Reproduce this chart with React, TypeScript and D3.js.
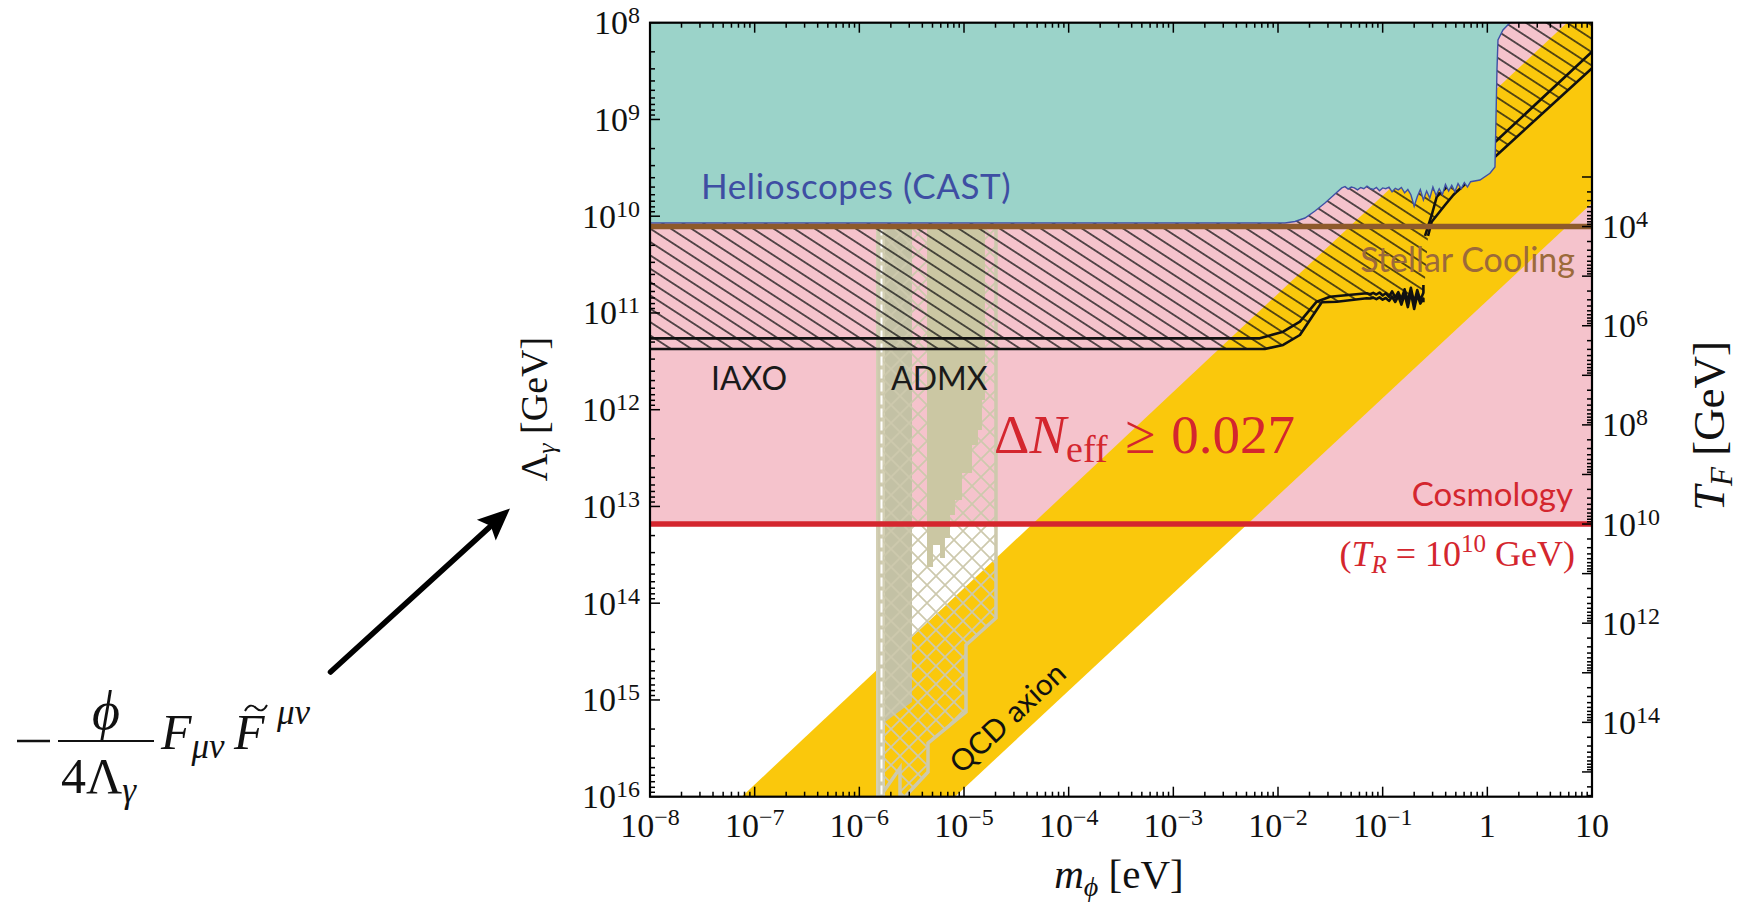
import React from 'react';
import * as d3 from 'd3';

type Pt = [number, number]; // [mass in eV, Lambda in GeV]

const W = 1745;
const H = 905;
const PLOT = { left: 650, right: 1592, top: 22.7, bottom: 796.7 };

const MASS_DOMAIN: [number, number] = [1e-8, 10];
const LAMBDA_DOMAIN: [number, number] = [1e8, 1e16];

// bottom axis labels: [mantissa, exponent]
const MASS_TICKS = [1e-8, 1e-7, 1e-6, 1e-5, 1e-4, 1e-3, 1e-2, 1e-1, 1, 10];
const MASS_TICK_LABELS: [string, string][] = [
  ['10', '−8'], ['10', '−7'], ['10', '−6'], ['10', '−5'], ['10', '−4'],
  ['10', '−3'], ['10', '−2'], ['10', '−1'], ['1', ''], ['10', ''],
];
const LAMBDA_TICKS = [1e8, 1e9, 1e10, 1e11, 1e12, 1e13, 1e14, 1e15, 1e16];
const LAMBDA_TICK_EXP = ['8', '9', '10', '11', '12', '13', '14', '15', '16'];
const TF_TICKS = [1e4, 1e6, 1e8, 1e10, 1e12, 1e14];
const TF_TICK_EXP = ['4', '6', '8', '10', '12', '14'];

// horizontal bounds
const LAMBDA_STELLAR = 1.28e10; // stellar cooling, T_F = 1e4 GeV
const LAMBDA_COSMO = 1.52e13; // Delta N_eff >= 0.027 for T_R = 1e10 GeV
const TF_AT_STELLAR = 1e4;
const TF_AT_COSMO = 1e10;

// QCD axion band
const QCD_BAND: Pt[] = [
  [7.52e-8, 1e16], [5.77, 1e8], [10, 1e8], [10, 7.31e9], [8.2e-6, 1e16],
];

// CAST helioscope limit
const CAST_LIMIT: Pt[] = [
  [1e-8, 1.176e10], [0.01166, 1.176e10], [0.01453, 1.134e10], [0.0181, 1.044e10],
  [0.02256, 8.84e9], [0.02811, 7.31e9], [0.03503, 5.9e9], [0.0407, 5.1e9],
  [0.0437, 4.95e9], [0.0468, 5.25e9], [0.0501, 5.0e9], [0.0537, 5.1e9],
  [0.0575, 5.35e9], [0.0617, 5.05e9], [0.0661, 5.2e9], [0.0708, 4.9e9],
  [0.0759, 5.15e9], [0.0813, 5.3e9], [0.0871, 5.05e9], [0.0933, 5.45e9],
  [0.1, 5.1e9], [0.107, 5.2e9], [0.115, 5.0e9], [0.123, 5.6e9],
  [0.132, 5.15e9], [0.141, 5.35e9], [0.151, 5.05e9], [0.162, 5.75e9],
  [0.174, 5.3e9], [0.186, 6.0e9], [0.2, 7.9e9], [0.214, 6.3e9],
  [0.229, 5.3e9], [0.245, 6.8e9], [0.263, 5.5e9], [0.282, 6.5e9],
  [0.302, 5.0e9], [0.324, 6.1e9], [0.347, 5.2e9], [0.372, 6.0e9],
  [0.398, 4.7e9], [0.427, 5.5e9], [0.457, 4.8e9], [0.49, 5.6e9],
  [0.525, 4.6e9], [0.562, 5.2e9], [0.603, 4.5e9], [0.646, 5.0e9],
  [0.692, 4.4e9], [0.851, 4.23e9], [1.06, 3.6e9], [1.183, 3.1e9],
  [1.209, 1.01e9], [1.236, 3.08e8], [1.264, 1.51e8], [1.411, 1.19e8],
  [1.645, 1e8],
];

// IAXO projected sensitivity (two curves), low-mass branch
const IAXO_UPPER: Pt[] = [
  [1e-8, 1.83e11], [6.7e-3, 1.83e11], [1.12e-2, 1.56e11], [1.62e-2, 1.23e11],
  [2.34e-2, 7.65e10], [3.14e-2, 6.79e10], [7.04e-2, 6.26e10], [0.0759, 6.4e10],
  [0.0813, 6.2e10], [0.0871, 6.45e10], [0.0933, 6.15e10], [0.1, 6.6e10],
  [0.107, 6.25e10], [0.115, 6.8e10], [0.123, 6.0e10], [0.132, 6.9e10],
  [0.141, 6.1e10], [0.151, 7.2e10], [0.162, 5.7e10], [0.174, 7.6e10],
  [0.186, 5.5e10], [0.2, 7.9e10], [0.214, 5.8e10], [0.229, 7.4e10],
  [0.245, 6.2e10], [0.245, 5.14e10],
];
const IAXO_LOWER: Pt[] = [
  [1e-8, 2.36e11], [7.5e-3, 2.36e11], [1.12e-2, 2.14e11], [1.62e-2, 1.69e11],
  [2.17e-2, 1.05e11], [2.62e-2, 7.76e10], [3.64e-2, 7.65e10], [7.04e-2, 7.06e10],
  [0.0759, 7.1e10], [0.0813, 6.95e10], [0.0871, 7.2e10], [0.0933, 6.9e10],
  [0.1, 7.3e10], [0.107, 7.0e10], [0.115, 7.5e10], [0.123, 6.8e10],
  [0.132, 7.7e10], [0.141, 6.7e10], [0.151, 8.2e10], [0.162, 6.4e10],
  [0.174, 8.7e10], [0.186, 6.2e10], [0.2, 9.1e10], [0.214, 6.5e10],
  [0.229, 8.0e10], [0.245, 7.1e10], [0.245, 7.76e10],
];
// IAXO high-mass branch (two curves)
const IAXO_HIGH_A: Pt[] = [
  [0.254, 1.6e10], [0.2943, 9.72e9], [0.3286, 6.29e9], [0.3667, 5.58e9], [10, 2.0e8],
];
const IAXO_HIGH_B: Pt[] = [
  [0.2713, 1.6e10], [0.2943, 1.14e10], [0.3944, 7.66e9], [0.4734, 6.04e9],
  [0.5102, 5.58e9], [10, 2.95e8],
];

// ADMX haloscope
const ADMX_EDGE_BAND: [number, number] = [1.443e-6, 1.759e-6];
const ADMX_EDGE_DASH = 1.628e-6;
const ADMX_STRIP_1: Pt[] = [
  [1.759e-6, 1.28e10], [3.185e-6, 1.28e10], [3.185e-6, 1.05e15], [1.759e-6, 1.69e15],
];
const ADMX_STRIP_2: Pt[] = [
  [4.43e-6, 1.28e10], [1.586e-5, 1.28e10], [1.586e-5, 7.93e11], [1.485e-5, 7.93e11],
  [1.485e-5, 1.62e12], [1.36e-5, 1.62e12], [1.36e-5, 2.32e12], [1.193e-5, 2.32e12],
  [1.193e-5, 4.51e12], [9.57e-6, 4.51e12], [9.57e-6, 8.58e12], [8.2e-6, 8.58e12],
  [8.2e-6, 1.226e13], [7.35e-6, 1.226e13], [7.35e-6, 2.12e13], [6.58e-6, 2.12e13],
  [6.58e-6, 3.41e13], [5.9e-6, 3.41e13], [5.9e-6, 2.5e13], [5.06e-6, 2.5e13],
  [5.06e-6, 4.23e13], [4.43e-6, 4.23e13],
];
const ADMX_PROJECTED: Pt[] = [
  [1.541e-6, 1.28e10], [2.021e-5, 1.28e10], [2.021e-5, 1.42e14], [1.045e-5, 2.7e14],
  [1.045e-5, 1.332e15], [4.53e-6, 2.79e15], [4.53e-6, 5.55e15], [2.73e-6, 1e16],
  [2.446e-6, 1e16], [2.446e-6, 5.05e15], [1.576e-6, 1e16],
];

// label anchor for the QCD band text
const QCD_LABEL_AT: Pt = [2.63e-5, 1.54e15];

const SERIF = "'Liberation Serif', 'DejaVu Serif', serif";
const SANS = "Lato, 'Open Sans', 'DejaVu Sans', sans-serif";

const C = {
  pink: '#f5c3cc',
  yellow: '#fac80c',
  teal: '#9bd3c9',
  tealEdge: '#3f50a6',
  brown: '#8e5a2b',
  brownText: '#9c6a3a',
  red: '#d4262e',
  admx1: '#c3c1a5',
  admx2: '#cbc7a3',
  admxEdge: '#cdc9ad',
  admxBand: '#d3cfb3',
  blue: '#3e4ea3',
};

function minorTicks(lo: number, hi: number): number[] {
  const out: number[] = [];
  for (let e = lo; e < hi; e++) for (let k = 2; k < 10; k++) out.push(k * Math.pow(10, e));
  return out;
}

export default function App() {
  const x = d3.scaleLog().domain(MASS_DOMAIN).range([PLOT.left, PLOT.right]);
  const y = d3.scaleLog().domain(LAMBDA_DOMAIN).range([PLOT.top, PLOT.bottom]);
  const yT = d3
    .scaleLog()
    .domain([TF_AT_STELLAR, TF_AT_COSMO])
    .range([y(LAMBDA_STELLAR), y(LAMBDA_COSMO)]);

  const line = d3
    .line<Pt>()
    .x((d) => x(d[0]))
    .y((d) => y(d[1]));
  const area = (pts: Pt[]) => (line(pts) || '') + 'Z';

  const cosmoRegion: Pt[] = [
    [MASS_DOMAIN[0], LAMBDA_DOMAIN[0]], [MASS_DOMAIN[1], LAMBDA_DOMAIN[0]],
    [MASS_DOMAIN[1], LAMBDA_COSMO], [MASS_DOMAIN[0], LAMBDA_COSMO],
  ];
  const helioRegion: Pt[] = [[MASS_DOMAIN[0], LAMBDA_DOMAIN[0]], ...CAST_LIMIT];
  const iaxoRegion: Pt[] = [
    ...CAST_LIMIT,
    [MASS_DOMAIN[1], LAMBDA_DOMAIN[0]],
    ...IAXO_HIGH_B.slice().reverse(),
    ...IAXO_LOWER.slice().reverse(),
  ];

  const xMinor = minorTicks(-8, 1);
  const yMinor = minorTicks(8, 16);
  const tfMajor = d3.range(3, 16).map((e) => Math.pow(10, e));
  const tfMinor = minorTicks(3, 16).filter((v) => yT(v) <= PLOT.bottom);

  // annotation arrow from the Lagrangian term to the left axis
  const tail = { x: 330.5, y: 672 };
  const tip = { x: 510, y: 508.5 };
  const len = Math.hypot(tip.x - tail.x, tip.y - tail.y);
  const ux = (tip.x - tail.x) / len;
  const uy = (tip.y - tail.y) / len;
  const headL = 32;
  const headW = 14;
  const bx = tip.x - ux * headL;
  const by = tip.y - uy * headL;
  const head = `M${tip.x},${tip.y}L${bx - uy * headW},${by + ux * headW}L${bx + ux * 6},${by + uy * 6}L${bx + uy * headW},${by - ux * headW}Z`;

  // QCD label angle follows the band edge
  const qa = QCD_BAND[4];
  const qb = QCD_BAND[3];
  const qcdAngle = (Math.atan2(y(qb[1]) - y(qa[1]), x(qb[0]) - x(qa[0])) * 180) / Math.PI;

  const tickW = 1.5;

  return (
    <svg
      width={W}
      height={H}
      viewBox={`0 0 ${W} ${H}`}
      style={{ position: 'absolute', left: 0, top: 0, display: 'block', background: '#fff' }}
    >
      <defs>
        <clipPath id="plotClip">
          <rect x={PLOT.left} y={PLOT.top} width={PLOT.right - PLOT.left} height={PLOT.bottom - PLOT.top} />
        </clipPath>
        <pattern id="iaxoHatch" patternUnits="userSpaceOnUse" width={12} height={11.2} patternTransform="rotate(33)">
          <line x1={-1} y1={5.6} x2={13} y2={5.6} stroke="#111" strokeWidth={1.35} />
        </pattern>
        <pattern id="admxCross" patternUnits="userSpaceOnUse" width={18} height={18}>
          <path d="M0,0L18,18M18,0L0,18" stroke={C.admxEdge} strokeWidth={1.7} />
        </pattern>
      </defs>

      <g clipPath="url(#plotClip)">
        {/* cosmology bound */}
        <path d={area(cosmoRegion)} fill={C.pink} />
        {/* QCD axion band */}
        <path d={area(QCD_BAND)} fill={C.yellow} />

        {/* ADMX */}
        <rect
          x={x(ADMX_EDGE_BAND[0])}
          y={y(LAMBDA_STELLAR)}
          width={x(ADMX_EDGE_BAND[1]) - x(ADMX_EDGE_BAND[0])}
          height={PLOT.bottom - y(LAMBDA_STELLAR)}
          fill={C.admxBand}
        />
        <path d={area(ADMX_STRIP_1)} fill={C.admx1} />
        <path d={area(ADMX_PROJECTED)} fill="url(#admxCross)" stroke={C.admxEdge} strokeWidth={3.5} strokeLinejoin="miter" />
        <path d={area(ADMX_STRIP_2)} fill={C.admx2} />
        <line
          x1={x(ADMX_EDGE_DASH)}
          x2={x(ADMX_EDGE_DASH)}
          y1={y(LAMBDA_STELLAR)}
          y2={PLOT.bottom}
          stroke="#fff"
          strokeWidth={2}
          strokeDasharray="9 4"
        />

        {/* IAXO hatched region and curves */}
        <path d={area(iaxoRegion)} fill="url(#iaxoHatch)" />
        {[IAXO_UPPER, IAXO_LOWER, IAXO_HIGH_A, IAXO_HIGH_B].map((c, i) => (
          <path key={i} d={line(c) || ''} fill="none" stroke="#111" strokeWidth={2.6} strokeLinejoin="round" />
        ))}

        {/* helioscopes */}
        <path d={area(helioRegion)} fill={C.teal} />
        <path d={line(CAST_LIMIT) || ''} fill="none" stroke={C.tealEdge} strokeWidth={1.4} />

        {/* stellar cooling */}
        <line x1={PLOT.left} x2={PLOT.right} y1={y(LAMBDA_STELLAR)} y2={y(LAMBDA_STELLAR)} stroke={C.brown} strokeWidth={5.5} />
        {/* cosmology */}
        <line x1={PLOT.left} x2={PLOT.right} y1={y(LAMBDA_COSMO)} y2={y(LAMBDA_COSMO)} stroke={C.red} strokeWidth={5.5} />
      </g>

      {/* region labels */}
      <text x={701} y={199} fontFamily={SANS} fontSize={35} letterSpacing={0.6} fill={C.blue}>Helioscopes (CAST)</text>
      <text x={1575} y={271.5} fontFamily={SANS} fontSize={34} fill={C.brownText} textAnchor="end">Stellar Cooling</text>
      <text x={711} y={390} fontFamily={SANS} fontSize={32} fill="#1a1a1a">IAXO</text>
      <text x={891} y={390} fontFamily={SANS} fontSize={32} fill="#1a1a1a">ADMX</text>
      <text x={994} y={453} fontFamily={SERIF} fontSize={55} fill={C.red}>
        Δ<tspan fontStyle="italic">N</tspan>
        <tspan fontSize={38} dy={9}>eff</tspan>
        <tspan dy={-9} dx={4}>{' ≥ '}</tspan>
        <tspan dx={2}>0.027</tspan>
      </text>
      <text x={1573} y={506} fontFamily={SANS} fontSize={33} fill={C.red} textAnchor="end">Cosmology</text>
      <text x={1575} y={566} fontFamily={SERIF} fontSize={36} fill={C.red} textAnchor="end">
        (<tspan fontStyle="italic">T</tspan>
        <tspan fontStyle="italic" fontSize={25} dy={7}>R</tspan>
        <tspan dy={-7}> = 10</tspan>
        <tspan fontSize={25} dy={-14}>10</tspan>
        <tspan dy={14}> GeV)</tspan>
      </text>
      <g transform={`translate(${x(QCD_LABEL_AT[0])},${y(QCD_LABEL_AT[1])}) rotate(${qcdAngle})`}>
        <text x={0} y={10} fontFamily={SANS} fontSize={30} fill="#111" textAnchor="middle">QCD axion</text>
      </g>

      {/* frame */}
      <rect
        x={PLOT.left}
        y={PLOT.top}
        width={PLOT.right - PLOT.left}
        height={PLOT.bottom - PLOT.top}
        fill="none"
        stroke="#000"
        strokeWidth={2.2}
      />

      {/* bottom & top ticks, left ticks, right T_F ticks */}
      <g stroke="#000" strokeWidth={tickW}>
        {MASS_TICKS.map((v) => (
          <g key={`xm${v}`}>
            <line x1={x(v)} x2={x(v)} y1={PLOT.bottom} y2={PLOT.bottom - 10} />
            <line x1={x(v)} x2={x(v)} y1={PLOT.top} y2={PLOT.top + 10} />
          </g>
        ))}
        {xMinor.map((v) => (
          <g key={`xn${v}`}>
            <line x1={x(v)} x2={x(v)} y1={PLOT.bottom} y2={PLOT.bottom - 5} />
            <line x1={x(v)} x2={x(v)} y1={PLOT.top} y2={PLOT.top + 5} />
          </g>
        ))}
        {LAMBDA_TICKS.map((v) => (
          <line key={`ym${v}`} x1={PLOT.left} x2={PLOT.left + 10} y1={y(v)} y2={y(v)} />
        ))}
        {yMinor.map((v) => (
          <line key={`yn${v}`} x1={PLOT.left} x2={PLOT.left + 5} y1={y(v)} y2={y(v)} />
        ))}
        {tfMajor.map((v) => (
          <line key={`tm${v}`} x1={PLOT.right} x2={PLOT.right - 10} y1={yT(v)} y2={yT(v)} />
        ))}
        {tfMinor.map((v) => (
          <line key={`tn${v}`} x1={PLOT.right} x2={PLOT.right - 5} y1={yT(v)} y2={yT(v)} />
        ))}
      </g>

      {/* tick labels */}
      <g fontFamily={SERIF} fontSize={34} fill="#111">
        {MASS_TICKS.map((v, i) => (
          <text key={`xl${v}`} x={x(v)} y={837} textAnchor="middle">
            {MASS_TICK_LABELS[i][0]}
            {MASS_TICK_LABELS[i][1] && (
              <tspan fontSize={24} dy={-12}>{MASS_TICK_LABELS[i][1]}</tspan>
            )}
          </text>
        ))}
        {LAMBDA_TICKS.map((v, i) => (
          <text key={`yl${v}`} x={640} y={y(v) + 11.5} textAnchor="end">
            10<tspan fontSize={24} dy={-11}>{LAMBDA_TICK_EXP[i]}</tspan>
          </text>
        ))}
        {TF_TICKS.map((v, i) => (
          <text key={`tl${v}`} x={1602} y={yT(v) + 11.5}>
            10<tspan fontSize={24} dy={-11}>{TF_TICK_EXP[i]}</tspan>
          </text>
        ))}
      </g>

      {/* axis titles */}
      <g fontFamily={SERIF} fill="#111">
        <text transform="translate(547,409) rotate(-90)" textAnchor="middle" fontSize={38}>
          Λ<tspan fontStyle="italic" fontSize={26} dy={8}>γ</tspan>
          <tspan dy={-8}> [GeV]</tspan>
        </text>
        <text x={1119} y={888} textAnchor="middle" fontSize={41}>
          <tspan fontStyle="italic">m</tspan>
          <tspan fontStyle="italic" fontSize={28} dy={8}>ϕ</tspan>
          <tspan dy={-8}> [eV]</tspan>
        </text>
        <text transform="translate(1724,426) rotate(-90)" textAnchor="middle" fontSize={45}>
          <tspan fontStyle="italic">T</tspan>
          <tspan fontStyle="italic" fontSize={31} dy={8}>F</tspan>
          <tspan dy={-8}> [GeV]</tspan>
        </text>
      </g>

      {/* Lagrangian term */}
      <g fontFamily={SERIF} fill="#111">
        <line x1={17} x2={50} y1={741} y2={741} stroke="#111" strokeWidth={2.4} />
        <line x1={58} x2={154} y1={741} y2={741} stroke="#111" strokeWidth={2.2} />
        <text x={106} y={729} textAnchor="middle" fontSize={54} fontStyle="italic">ϕ</text>
        <text x={61} y={793} fontSize={50}>
          4Λ<tspan fontStyle="italic" fontSize={35} dy={9}>γ</tspan>
        </text>
        <text x={161} y={749} fontSize={50} fontStyle="italic">
          F<tspan fontSize={35} dy={9}>μν</tspan>
        </text>
        <text x={234} y={749} fontSize={50} fontStyle="italic">F</text>
        <path d="M245,711 C248,705 252,704 256,708 C260,712 264,711 267,705" fill="none" stroke="#111" strokeWidth={1.9} />
        <text x={277} y={724} fontSize={35} fontStyle="italic">μν</text>
      </g>

      {/* arrow */}
      <line x1={tail.x} y1={tail.y} x2={bx + ux * 4} y2={by + uy * 4} stroke="#000" strokeWidth={5.5} strokeLinecap="round" />
      <path d={head} fill="#000" />
    </svg>
  );
}
